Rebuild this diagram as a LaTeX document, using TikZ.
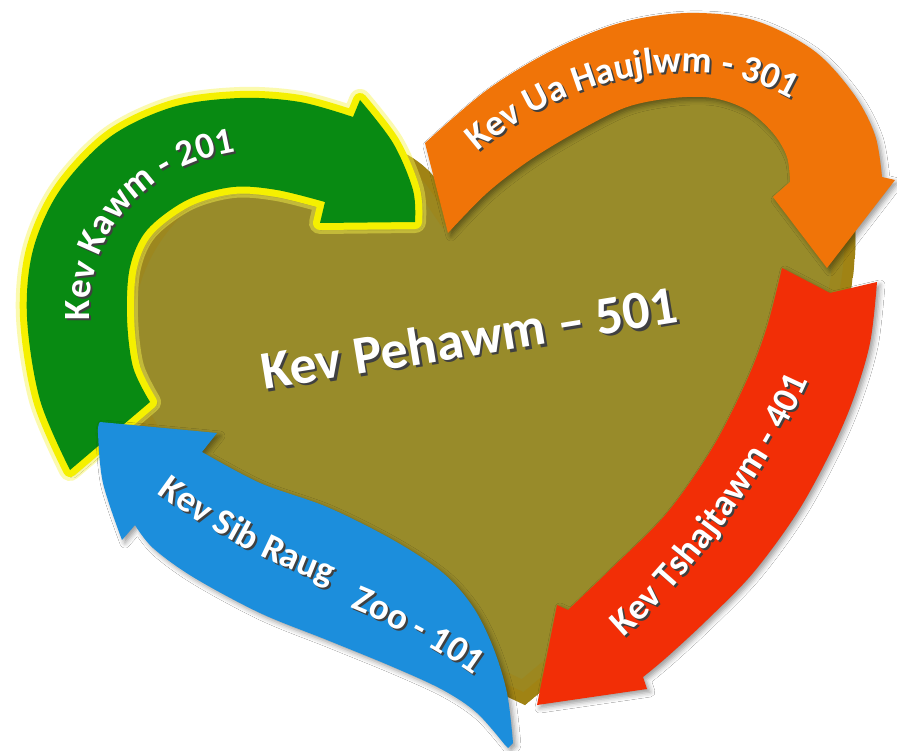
\documentclass[tikz,border=0pt]{standalone}
\usepackage{fontspec}
\setmainfont{Carlito}
\usetikzlibrary{decorations.text,shadows.blur}
\definecolor{cgreen}{RGB}{8,138,18}
\definecolor{corange}{RGB}{240,116,8}
\definecolor{cred}{RGB}{242,46,6}
\definecolor{cblue}{RGB}{28,142,220}
\definecolor{colive}{RGB}{152,139,42}
\definecolor{cgold}{RGB}{168,124,0}
\definecolor{cglow}{RGB}{245,240,0}
\newcommand\lblfont{\fontsize{37}{40}\selectfont\bfseries}
\newcommand\arclbl[2]{%
  \path[decorate, decoration={text along path, text color=black!75, text={|\lblfont|#2}}, xshift=2pt, yshift=-2pt] #1;
  \path[decorate, decoration={text along path, text color=white, text={|\lblfont|#2}}] #1;}
\tikzset{
  arrowshape/.style={blur shadow={shadow xshift=3pt, shadow yshift=-3pt, shadow blur radius=5pt, shadow opacity=40}},
  bigtext/.style={font=\fontsize{54}{60}\selectfont\bfseries, anchor=base west, rotate=9.3, inner sep=0pt}
}
\def\heartpath{(525,705) .. controls (300,600) and (100,480) .. (110,330) .. controls (120,130) and (380,90) .. (440,185) .. controls (520,20) and (870,0) .. (855,255) .. controls (845,420) and (700,560) .. (525,705) -- cycle}
\begin{document}
\begin{tikzpicture}[x=1pt,y=-1pt]
\useasboundingbox (0,0) rectangle (897,751);
\fill[white] (0,0) rectangle (897,751);
% heart
\begin{scope}
\clip \heartpath;
\fill[colive] \heartpath;
\draw[cgold, line width=44, opacity=0.25] \heartpath;
\draw[cgold, line width=22, opacity=0.35] \heartpath;
\end{scope}
% green arrow
\fill[cgreen, arrowshape,
  preaction={draw=cglow!70, line width=22, opacity=0.45, line join=round},
  preaction={draw=cglow, line width=14, line join=round}]
  plot[smooth, tension=0.55] coordinates {(70,470) (40,400) (27,317) (33,250) (60,190) (110,137) (173,107) (240,98) (300,102) (353,117)}
  -- (360,100)
  -- plot[smooth, tension=0.55] coordinates {(360,100) (393,143) (413,190) (415,222)}
  -- (320,223)
  -- plot[smooth, tension=0.55] coordinates {(325,202) (277,190) (233,187) (187,200) (147,230) (130,267) (127,317) (133,367) (150,402)}
  -- cycle;
% red arrow
\fill[cred, arrowshape]
  (782,268) -- (830,293) -- (877,282)
  -- plot[smooth, tension=0.55] coordinates {(877,282) (870,343) (853,400) (830,453) (797,513) (753,573) (707,620) (667,657) (643,677)}
  -- (647,689) -- (537,705) -- (557,605)
  -- plot[smooth, tension=0.55] coordinates {(568,610) (613,567) (667,513) (713,447) (747,380) (767,327) (782,268)}
  -- cycle;
% orange arrow
\fill[corange, arrowshape]
  (448,233) -- (425,143)
  -- plot[smooth, tension=0.55] coordinates {(425,143) (487,90) (553,50) (620,23) (687,13) (753,20) (813,50) (853,93) (875,135) (882,177)}
  -- (895,180) -- (827,268) -- (773,197)
  -- plot[smooth, tension=0.55] coordinates {(790,182) (787,157) (773,133) (747,110) (713,98) (673,98) (627,107) (580,130) (530,160) (487,193) (448,233)}
  -- cycle;
% blue arrow
\fill[cblue, arrowshape]
  (100,422) -- (217,433) -- (202,452)
  -- plot[smooth, tension=0.55] coordinates {(202,452) (260,483) (327,507) (393,540) (443,573) (473,607) (493,647) (507,693) (513,743)}
  -- (508,748)
  -- plot[smooth, tension=0.55] coordinates {(505,745) (477,713) (443,690) (393,667) (327,640) (260,613) (193,577) (153,548) (135,525)}
  -- (122,540)
  -- plot[smooth, tension=0.55] coordinates {(122,540) (103,483) (98,433) (100,422)}
  -- cycle;
% labels
\arclbl{(90,320) .. controls (85,230) and (150,160) .. (250,150) .. controls (290,146) and (320,150) .. (350,158)}{Kev Kawm - 201}
\arclbl{(478,152) .. controls (560,80) and (700,40) .. (800,105) .. controls (840,131) and (860,160) .. (875,200)}{Kev Ua Haujlwm - 301}
\arclbl{(623,637) .. controls (690,580) and (770,470) .. (812,372) .. controls (830,330) and (840,300) .. (848,260)}{Kev Tshajtawm - 401}
\arclbl{(157,493) .. controls (200,525) and (260,560) .. (330,585) .. controls (360,596) and (380,605) .. (400,615)}{Kev Sib Raug}
\arclbl{(350,608) .. controls (390,624) and (440,650) .. (480,680) .. controls (500,695) and (515,712) .. (530,730)}{Zoo - 101}
\node[bigtext, text=black!75] (centershadow) at (266.5,392.5) {Kev Pehawm – 501};
\node[bigtext, text=white] (center) at (264,390) {Kev Pehawm – 501};
\end{tikzpicture}
\end{document}
